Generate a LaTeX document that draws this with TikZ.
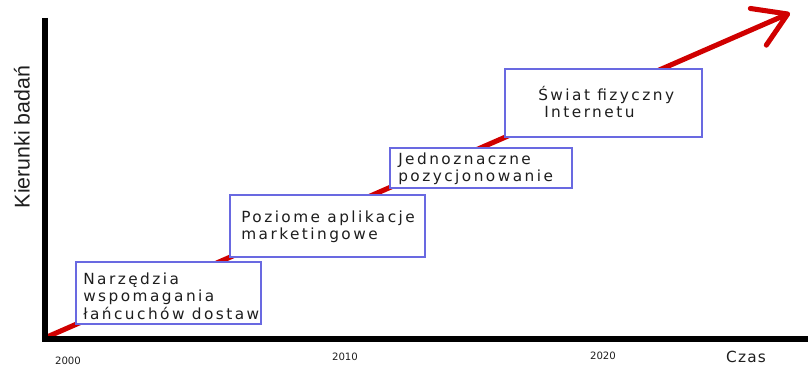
\documentclass[tikz,border=0pt]{standalone}
\usepackage{fontspec}
\setmainfont{DejaVu Sans}
\newfontfamily\boxfont[LetterSpace=16]{DejaVu Sans}
\newfontfamily\czasfont[LetterSpace=8]{DejaVu Sans}
\newfontfamily\labfont{Liberation Sans}
\usetikzlibrary{arrows.meta}
\definecolor{arrred}{RGB}{208,0,0}
\definecolor{boxblue}{RGB}{105,105,225}
\definecolor{txt}{RGB}{30,30,30}
\begin{document}
\begin{tikzpicture}[x=0.75pt,y=-0.75pt,
 box/.style={draw=boxblue, line width=1.1pt, fill=white, inner sep=0pt},
 boxtext/.style={anchor=west, align=left, inner sep=0pt, text=txt, font=\boxfont\fontsize{11.5pt}{13pt}\selectfont},
 axis/.style={line width=4.6pt, black, line join=miter},
 trend/.style={draw=arrred, line width=3.8pt, -{Straight Barb[length=24pt,width=30pt,round]}},
 year/.style={font=\fontsize{7.6pt}{8pt}\selectfont, text=txt, inner sep=0pt}]

\useasboundingbox (0,0) rectangle (808,366);
\coordinate (origin) at (45,339);
\coordinate (ytop) at (45,18);
\coordinate (xend) at (808,339);
\coordinate (start) at (47,337);
\coordinate (tip) at (790,13);

\draw[trend] (start) -- (tip);

\node[box, minimum width=185*0.75pt, minimum height=62*0.75pt] (b1) at (168.5,293) {};
\node[boxtext] (t1) at (83,296) {Narzędzia\\wspomagania\\łańcuchów dostaw};

\node[box, minimum width=195*0.75pt, minimum height=62*0.75pt] (b2) at (327.5,226) {};
\node[boxtext] (t2) at (241,227) {Poziome aplikacje\\marketingowe};

\node[box, minimum width=182*0.75pt, minimum height=40*0.75pt] (b3) at (481,168) {};
\node[boxtext] (t3) at (398,169) {Jednoznaczne\\pozycjonowanie};

\node[box, minimum width=197*0.75pt, minimum height=68*0.75pt] (b4) at (603.5,103) {};
\node[boxtext] (t4) at (538,102) {Świat fizyczny\\\hspace{4.5pt}Internetu};

\draw[axis] (ytop) -- (origin) -- (xend);

\node[font=\labfont\fontsize{16pt}{18pt}\selectfont, rotate=90, text=txt, inner sep=0pt] (ylab) at (22,137) {Kierunki badań};

\node[year] (y2000) at (68,361) {2000};
\node[year] (y2010) at (345,357) {2010};
\node[year] (y2020) at (603,356) {2020};
\node[font=\czasfont\fontsize{11.5pt}{13pt}\selectfont, text=txt, inner sep=0pt] (czas) at (746,357) {Czas};
\end{tikzpicture}
\end{document}
